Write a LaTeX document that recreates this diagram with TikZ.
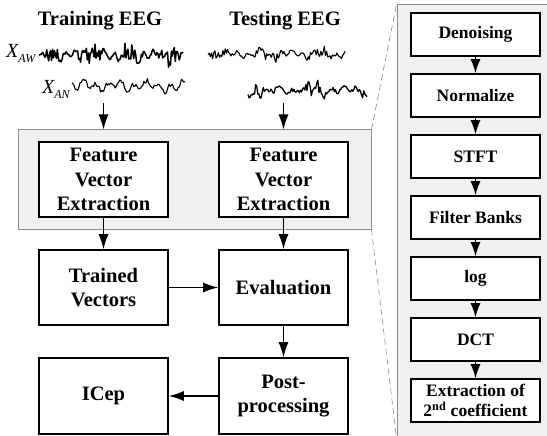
\documentclass[tikz,border=0pt]{standalone}
\usepackage{fontspec}
\setmainfont{Liberation Serif}
\usetikzlibrary{arrows.meta}
\definecolor{panelfill}{HTML}{F0F0F0}
\definecolor{panelline}{HTML}{8C8C8C}
\begin{document}
\begin{tikzpicture}[x=1pt,y=-1pt,
  bigbox/.style={draw=black, line width=1.6pt, fill=white, align=center,
    font=\fontsize{20.5}{24.5}\selectfont\bfseries, inner sep=0pt,
    minimum width=129pt},
  smallbox/.style={draw=black, line width=1.6pt, fill=white, align=center,
    font=\fontsize{17.5}{20}\selectfont\bfseries, inner sep=0pt,
    minimum width=129pt, minimum height=43pt},
  panel/.style={draw=panelline, line width=1pt, fill=panelfill, inner sep=0pt},
  arr/.style={line width=1.3pt, -{Latex[length=15pt,width=10pt]}},
  sarr/.style={line width=1.3pt, -{Latex[length=14pt,width=10pt]}},
  title/.style={font=\fontsize{20.5}{24}\selectfont\bfseries},
  siglabel/.style={anchor=base west, inner sep=0pt, font=\fontsize{20}{20}\selectfont\itshape},
  wave/.style={line width=1.1pt, line join=round},
  zoomline/.style={draw=panelline, line width=0.6pt, dash pattern=on 6pt off 4pt}
]
\useasboundingbox (0,0) rectangle (547,436);

% panels
\node[panel, minimum width=353pt, minimum height=99pt] (lp) at (194.5,179.5) {};
\node[panel, minimum width=152pt, minimum height=432pt] (rp) at (473,221) {};
\draw[zoomline] (lp.north east) -- (rp.north west);
\draw[zoomline] (lp.south east) -- (rp.south west);

% titles
\node[title] (ttrain) at (100,21) {Training EEG};
\node[title] (ttest) at (285,21) {Testing EEG};

% signal labels
\node[siglabel] (xaw) at (6,58) {X\raisebox{-5pt}{\fontsize{12}{12}\selectfont AW}};
\node[siglabel] (xan) at (42,94) {X\raisebox{-5pt}{\fontsize{12}{12}\selectfont AN}};

% waveforms
\pgfmathsetseed{11}
\draw[wave, line width=1.5pt] plot[domain=39:183, samples=150] (\x, {55 + 3*sin(\x*37) + 2*sin(\x*13+40) + (5+4*sin(\x*9))*rand});
\pgfmathsetseed{23}
\draw[wave] plot[domain=72:185, samples=100] (\x, {86 + 3.5*sin(\x*29) + 2.5*sin(\x*11+70) + 2.5*rand});
\pgfmathsetseed{5}
\draw[wave] plot[domain=208:345, samples=120] (\x, {54 + 2.5*sin(\x*33) + 2*sin(\x*12+20) + (3+2*sin(\x*7))*rand});
\pgfmathsetseed{41}
\draw[wave, line width=1.3pt] plot[domain=248:367, samples=110] (\x, {90 + 2.5*sin(\x*28) + 2*sin(\x*10+50) + (4+3*sin(\x*6))*rand});

\coordinate (inL) at (103.5,103);
\coordinate (inR) at (283.5,103);

% left boxes
\node[bigbox, minimum height=75pt] (fvL) at (103.5,179.5) {Feature\\Vector\\Extraction};
\node[bigbox, minimum height=75pt] (fvR) at (283.5,179.5) {Feature\\Vector\\Extraction};
\node[bigbox, minimum height=75pt] (trained) at (103.5,287.5) {Trained\\Vectors};
\node[bigbox, minimum height=75pt] (eval) at (283.5,287.5) {Evaluation};
\node[bigbox, minimum height=76pt] (icep) at (103.5,396) {ICep};
\node[bigbox, minimum height=76pt] (post) at (283.5,396) {Post-\\processing};

\draw[arr] (inL) -- (inL |- lp.north);
\draw[arr] (inR) -- (inR |- lp.north);
\draw[arr] (fvL) -- (trained);
\draw[arr] (fvR) -- (eval);
\draw[arr] (trained.east |- eval.west) -- (eval.west);
\draw[arr] (eval) -- (post);
\draw[arr] (post) -- (icep);

% right boxes
\node[smallbox] (s1) at (475.5,34.5) {Denoising};
\node[smallbox] (s2) at (475.5,95.5) {Normalize};
\node[smallbox] (s3) at (475.5,156.5) {STFT};
\node[smallbox] (s4) at (475.5,217.5) {Filter Banks};
\node[smallbox] (s5) at (475.5,278.5) {log};
\node[smallbox] (s6) at (475.5,339.5) {DCT};
\node[smallbox] (s7) at (475.5,400.5) {Extraction of\\2\textsuperscript{nd} coefficient};

\draw[sarr] (s1) -- (s2);
\draw[sarr] (s2) -- (s3);
\draw[sarr] (s3) -- (s4);
\draw[sarr] (s4) -- (s5);
\draw[sarr] (s5) -- (s6);
\draw[sarr] (s6) -- (s7);
\end{tikzpicture}
\end{document}
